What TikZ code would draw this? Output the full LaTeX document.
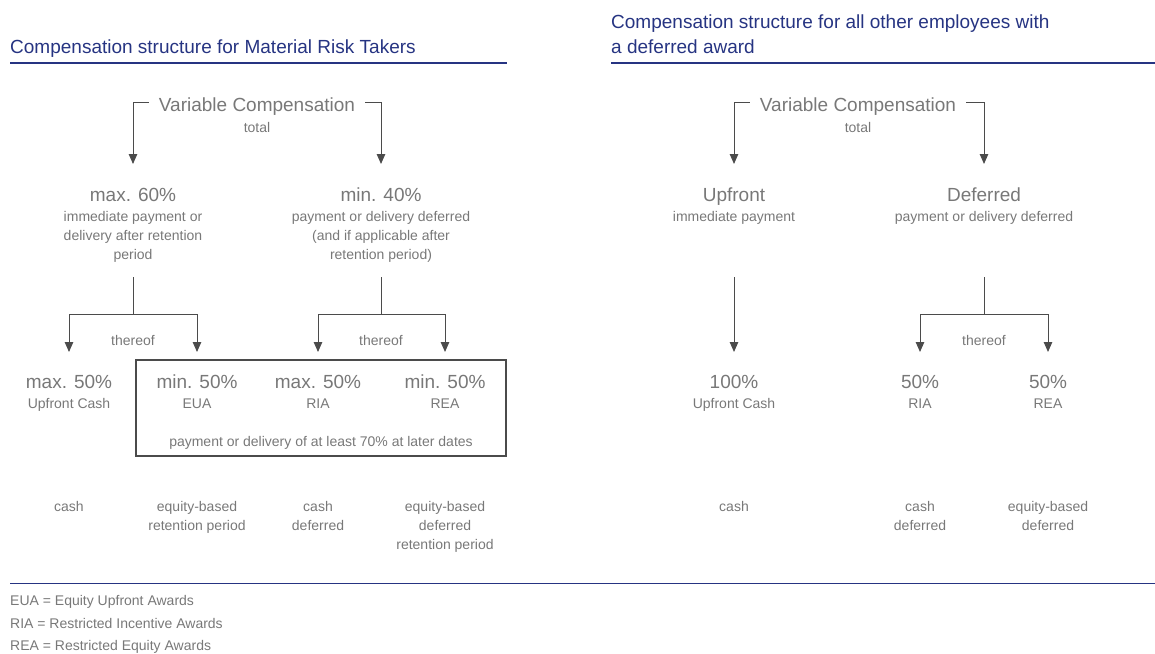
\documentclass[tikz,border=0pt]{standalone}
\usepackage{fontspec}
\setmainfont{Liberation Sans}
\usetikzlibrary{arrows.meta}
\definecolor{txtgray}{RGB}{120,120,120}
\definecolor{linegray}{RGB}{75,75,75}
\definecolor{titleblue}{RGB}{38,52,130}
\tikzset{
  txt/.style={font=\fontsize{14}{19}\selectfont, text=txtgray, inner sep=0pt, align=center, anchor=base},
  big/.style={txt, font=\fontsize{19}{22}\selectfont},
  vc/.style={big, inner xsep=10pt, inner ysep=0pt},
  ttl/.style={font=\fontsize{19}{25}\selectfont, text=titleblue, inner sep=0pt, align=left, anchor=base west},
  foot/.style={font=\fontsize{14}{19}\selectfont, text=txtgray, inner sep=0pt, anchor=base west},
  arr/.style={draw=linegray, line width=1pt, -{Triangle[width=8.5pt,length=10pt]}},
  conn/.style={draw=linegray, line width=1pt},
  rule/.style={draw=titleblue, line width=1.3pt},
  frame/.style={draw=linegray, line width=1.2pt}
}
\begin{document}
\begin{tikzpicture}[x=1pt,y=-1pt]
\path[use as bounding box] (0,0) rectangle (1155,653);

% titles and rules (multi-line nodes are placed by the baseline of their last line)
\node[ttl] (titleL) at (10,53) {Compensation structure for Material Risk Takers};
\node[ttl] (titleR) at (611,53) {Compensation structure for all other employees with\\a deferred award};
\draw[rule] (10,63) -- (507,63);
\draw[rule] (611,63) -- (1155,63);
\draw[titleblue, line width=0.9pt] (10,583) -- (1155,583);

% ---------------- left diagram ----------------
\node[vc] (vcL) at (257,111) {Variable Compensation};
\node[txt] (totL) at (257,132) {total};

\node[big] (p60) at (133,201) {max. 60\%};
\node[txt] (d60) at (133,259) {immediate payment or\\delivery after retention\\period};
\node[big] (p40) at (381,201) {min. 40\%};
\node[txt] (d40) at (381,259) {payment or delivery deferred\\(and if applicable after\\retention period)};

\coordinate (tL60) at (133,164);
\coordinate (tL40) at (381,164);
\draw[arr] ([yshift=4pt]vcL.west) -| (tL60);
\draw[arr] ([yshift=4pt]vcL.east) -| (tL40);

\node[txt] (thL1) at (133,345) {thereof};
\node[txt] (thL2) at (381,345) {thereof};

\node[big] (a1) at (69,388) {max. 50\%};
\node[txt] (a1s) at (69,408) {Upfront Cash};
\node[big] (a2) at (197,388) {min. 50\%};
\node[txt] (a2s) at (197,408) {EUA};
\node[big] (a3) at (318,388) {max. 50\%};
\node[txt] (a3s) at (318,408) {RIA};
\node[big] (a4) at (445,388) {min. 50\%};
\node[txt] (a4s) at (445,408) {REA};

\draw[frame] (136,360) rectangle (506,456);
\node[txt] (note) at (321,446) {payment or delivery of at least 70\% at later dates};

\coordinate (sL60) at (133,277);
\coordinate (jL60) at (133,314);
\coordinate (sL40) at (381,277);
\coordinate (jL40) at (381,314);
\coordinate (tA1) at (69,352);
\coordinate (tA2) at (197,352);
\coordinate (tA3) at (318,352);
\coordinate (tA4) at (445,352);
\draw[conn] (sL60) -- (jL60);
\draw[arr] (jL60) -| (tA1);
\draw[arr] (jL60) -| (tA2);
\draw[conn] (sL40) -- (jL40);
\draw[arr] (jL40) -| (tA3);
\draw[arr] (jL40) -| (tA4);

\node[txt] (c1) at (69,511) {cash};
\node[txt] (c2) at (197,530) {equity-based\\retention period};
\node[txt] (c3) at (318,530) {cash\\deferred};
\node[txt] (c4) at (445,549) {equity-based\\deferred\\retention period};

% ---------------- right diagram ----------------
\node[vc] (vcR) at (858,111) {Variable Compensation};
\node[txt] (totR) at (858,132) {total};

\node[big] (up) at (734,201) {Upfront};
\node[txt] (ups) at (734,221) {immediate payment};
\node[big] (de) at (984,201) {Deferred};
\node[txt] (des) at (984,221) {payment or delivery deferred};

\coordinate (tRup) at (734,164);
\coordinate (tRde) at (984,164);
\draw[arr] ([yshift=4pt]vcR.west) -| (tRup);
\draw[arr] ([yshift=4pt]vcR.east) -| (tRde);

\coordinate (sRup) at (734,277);
\coordinate (tB1) at (734,352);
\draw[arr] (sRup) -- (tB1);

\coordinate (sRde) at (984,277);
\coordinate (jRde) at (984,314);
\coordinate (tB2) at (920,352);
\coordinate (tB3) at (1048,352);
\draw[conn] (sRde) -- (jRde);
\draw[arr] (jRde) -| (tB2);
\draw[arr] (jRde) -| (tB3);
\node[txt] (thR) at (984,345) {thereof};

\node[big] (b1) at (734,388) {100\%};
\node[txt] (b1s) at (734,408) {Upfront Cash};
\node[big] (b2) at (920,388) {50\%};
\node[txt] (b2s) at (920,408) {RIA};
\node[big] (b3) at (1048,388) {50\%};
\node[txt] (b3s) at (1048,408) {REA};

\node[txt] (e1) at (734,511) {cash};
\node[txt] (e2) at (920,530) {cash\\deferred};
\node[txt] (e3) at (1048,530) {equity-based\\deferred};

% footnotes
\node[foot] (f1) at (10,605) {EUA = Equity Upfront Awards};
\node[foot] (f2) at (10,628) {RIA = Restricted Incentive Awards};
\node[foot] (f3) at (10,650) {REA = Restricted Equity Awards};
\end{tikzpicture}
\end{document}
